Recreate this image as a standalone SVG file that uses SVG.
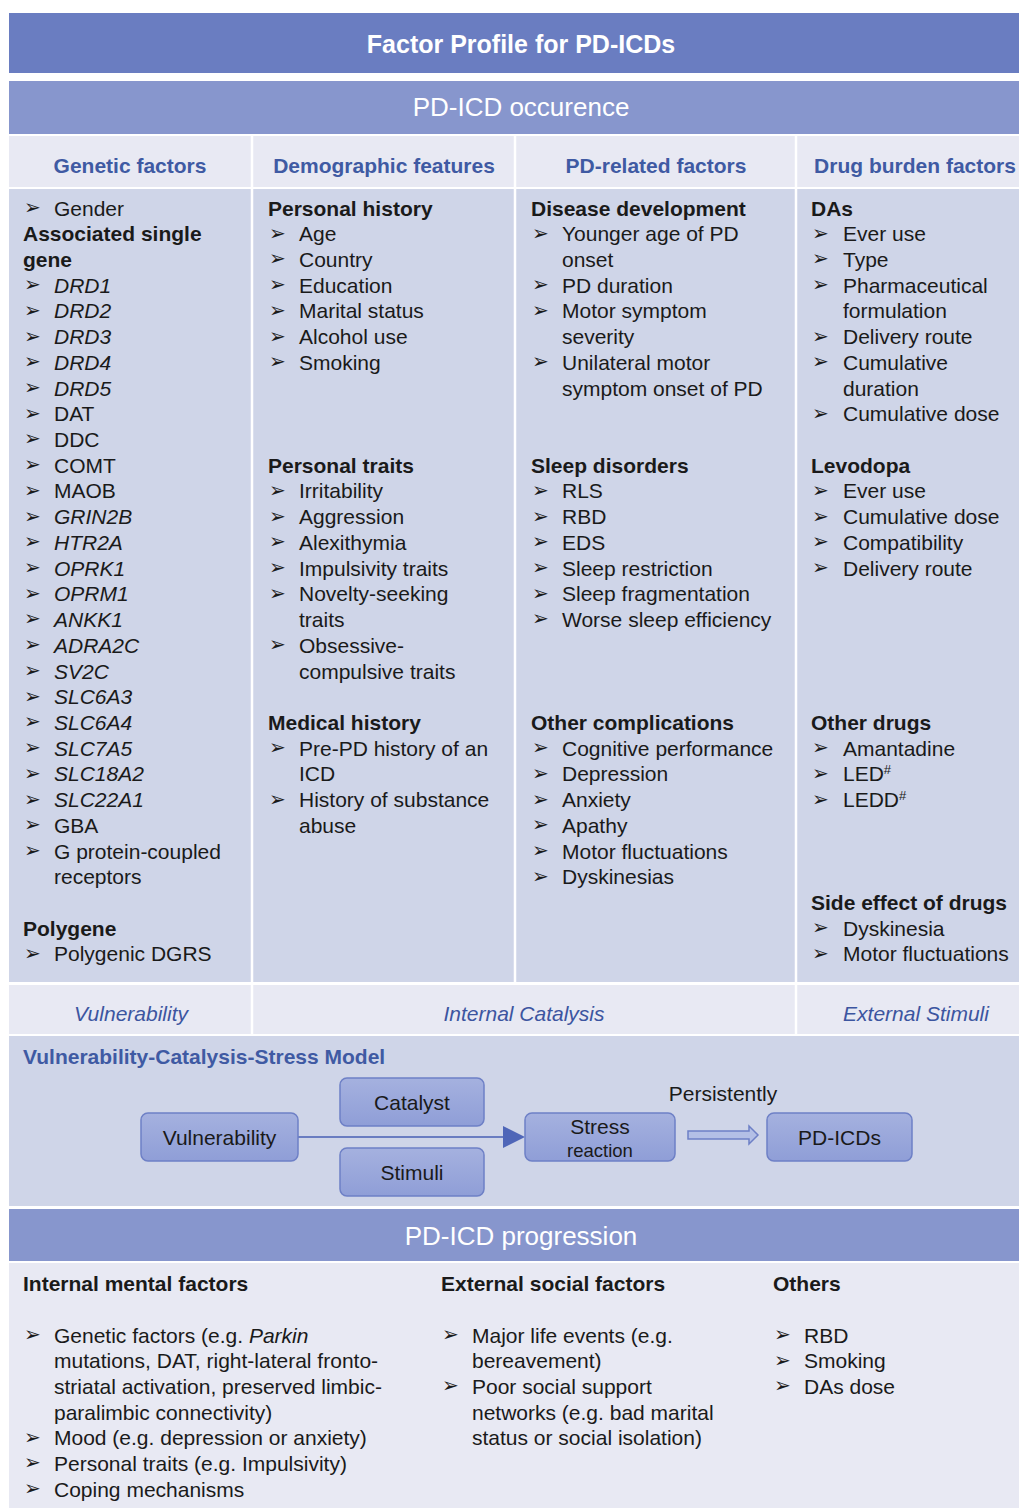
<svg xmlns="http://www.w3.org/2000/svg" width="1019" height="1508" viewBox="0 0 1019 1508">
<defs>
<style>
text{font-family:"Liberation Sans",Arial,sans-serif;}
.t{font-size:21px;fill:#1a1a1a;}
.h{font-size:21px;font-weight:bold;fill:#1a1a1a;}
.i{font-style:italic;}
.b{font-family:"DejaVu Sans",sans-serif;font-size:20px;fill:#1a1a1a;}
.ch{font-size:21px;font-weight:bold;fill:#3f5aa3;text-anchor:middle;}
.lab{font-size:21px;font-style:italic;fill:#3c55a0;text-anchor:middle;}
.bar{font-size:26px;fill:#ffffff;text-anchor:middle;}
.box{fill:url(#bg);stroke:#6e80c6;stroke-width:1.5;}
.bt{font-size:21px;fill:#1a1a1a;text-anchor:middle;}
</style>
<linearGradient id="bg" x1="0" y1="0" x2="0" y2="1">
<stop offset="0" stop-color="#a5b1df"/>
<stop offset="1" stop-color="#8f9ed7"/>
</linearGradient>
</defs>
<rect width="1019" height="1508" fill="#ffffff"/>

<g id="title-bar">
<rect x="9" y="13" width="1010" height="60" fill="#6a7dc1"/>
<text class="bar" x="521" y="53" style="font-weight:bold;font-size:25px">Factor Profile for PD-ICDs</text>
</g>
<g id="occurrence-bar">
<rect x="9" y="81" width="1010" height="53" fill="#8796cd"/>
<text class="bar" x="521" y="116">PD-ICD occurence</text>
</g>

<g id="column-headers">
<rect x="9" y="136" width="1010" height="51" fill="#e8e9f3"/>
<line x1="252" y1="136" x2="252" y2="187" stroke="#ffffff" stroke-width="2.5"/>
<line x1="515" y1="136" x2="515" y2="187" stroke="#ffffff" stroke-width="2.5"/>
<line x1="796" y1="136" x2="796" y2="187" stroke="#ffffff" stroke-width="2.5"/>
<text class="ch" x="130" y="173">Genetic factors</text>
<text class="ch" x="384" y="173">Demographic features</text>
<text class="ch" x="656" y="173">PD-related factors</text>
<text class="ch" x="915" y="173">Drug burden factors</text>
</g>

<rect x="9" y="189" width="1010" height="793" fill="#cfd5e8"/>
<line x1="252" y1="189" x2="252" y2="982" stroke="#ffffff" stroke-width="2.5"/>
<line x1="515" y1="189" x2="515" y2="982" stroke="#ffffff" stroke-width="2.5"/>
<line x1="796" y1="189" x2="796" y2="982" stroke="#ffffff" stroke-width="2.5"/>

<g id="genetic-factors">
<text class="b" x="24" y="214">➢</text><text class="t" x="54" y="215.5">Gender</text>
<text class="h" x="23" y="241.2">Associated single</text>
<text class="h" x="23" y="266.9">gene</text>
<text class="b" x="24" y="291">➢</text><text class="t i" x="54" y="292.7">DRD1</text>
<text class="b" x="24" y="317">➢</text><text class="t i" x="54" y="318.4">DRD2</text>
<text class="b" x="24" y="342.5">➢</text><text class="t i" x="54" y="344.1">DRD3</text>
<text class="b" x="24" y="368.2">➢</text><text class="t i" x="54" y="369.8">DRD4</text>
<text class="b" x="24" y="394">➢</text><text class="t i" x="54" y="395.5">DRD5</text>
<text class="b" x="24" y="419.7">➢</text><text class="t" x="54" y="421.3">DAT</text>
<text class="b" x="24" y="445.4">➢</text><text class="t" x="54" y="447">DDC</text>
<text class="b" x="24" y="471.1">➢</text><text class="t" x="54" y="472.7">COMT</text>
<text class="b" x="24" y="496.8">➢</text><text class="t" x="54" y="498.4">MAOB</text>
<text class="b" x="24" y="522.5">➢</text><text class="t i" x="54" y="524.1">GRIN2B</text>
<text class="b" x="24" y="548.3">➢</text><text class="t i" x="54" y="549.9">HTR2A</text>
<text class="b" x="24" y="574">➢</text><text class="t i" x="54" y="575.6">OPRK1</text>
<text class="b" x="24" y="599.7">➢</text><text class="t i" x="54" y="601.3">OPRM1</text>
<text class="b" x="24" y="625.4">➢</text><text class="t i" x="54" y="627">ANKK1</text>
<text class="b" x="24" y="651.1">➢</text><text class="t i" x="54" y="652.7">ADRA2C</text>
<text class="b" x="24" y="676.9">➢</text><text class="t i" x="54" y="678.5">SV2C</text>
<text class="b" x="24" y="702.6">➢</text><text class="t i" x="54" y="704.2">SLC6A3</text>
<text class="b" x="24" y="728.3">➢</text><text class="t i" x="54" y="729.9">SLC6A4</text>
<text class="b" x="24" y="754">➢</text><text class="t i" x="54" y="755.6">SLC7A5</text>
<text class="b" x="24" y="779.7">➢</text><text class="t i" x="54" y="781.3">SLC18A2</text>
<text class="b" x="24" y="805.5">➢</text><text class="t i" x="54" y="807.1">SLC22A1</text>
<text class="b" x="24" y="831.2">➢</text><text class="t" x="54" y="832.8">GBA</text>
<text class="b" x="24" y="856.9">➢</text><text class="t" x="54" y="858.5">G protein-coupled</text>
<text class="t" x="54" y="884.2">receptors</text>
<text class="h" x="23" y="935.7">Polygene</text>
<text class="b" x="24" y="959.8">➢</text><text class="t" x="54" y="961.4">Polygenic DGRS</text>
</g>

<g id="demographic-features">
<text class="h" x="268" y="215.5">Personal history</text>
<text class="b" x="269" y="239.6">➢</text><text class="t" x="299" y="241.2">Age</text>
<text class="b" x="269" y="265.3">➢</text><text class="t" x="299" y="266.9">Country</text>
<text class="b" x="269" y="291">➢</text><text class="t" x="299" y="292.7">Education</text>
<text class="b" x="269" y="317">➢</text><text class="t" x="299" y="318.4">Marital status</text>
<text class="b" x="269" y="342.5">➢</text><text class="t" x="299" y="344.1">Alcohol use</text>
<text class="b" x="269" y="368.2">➢</text><text class="t" x="299" y="369.8">Smoking</text>
<text class="h" x="268" y="472.7">Personal traits</text>
<text class="b" x="269" y="496.8">➢</text><text class="t" x="299" y="498.4">Irritability</text>
<text class="b" x="269" y="522.5">➢</text><text class="t" x="299" y="524.1">Aggression</text>
<text class="b" x="269" y="548.3">➢</text><text class="t" x="299" y="549.9">Alexithymia</text>
<text class="b" x="269" y="574">➢</text><text class="t" x="299" y="575.6">Impulsivity traits</text>
<text class="b" x="269" y="599.7">➢</text><text class="t" x="299" y="601.3">Novelty-seeking</text>
<text class="t" x="299" y="627">traits</text>
<text class="b" x="269" y="651.1">➢</text><text class="t" x="299" y="652.7">Obsessive-</text>
<text class="t" x="299" y="678.5">compulsive traits</text>
<text class="h" x="268" y="729.9">Medical history</text>
<text class="b" x="269" y="754">➢</text><text class="t" x="299" y="755.6">Pre-PD history of an</text>
<text class="t" x="299" y="781.3">ICD</text>
<text class="b" x="269" y="805.5">➢</text><text class="t" x="299" y="807.1">History of substance</text>
<text class="t" x="299" y="832.8">abuse</text>
</g>

<g id="pd-related-factors">
<text class="h" x="531" y="215.5">Disease development</text>
<text class="b" x="532" y="239.6">➢</text><text class="t" x="562" y="241.2">Younger age of PD</text>
<text class="t" x="562" y="266.9">onset</text>
<text class="b" x="532" y="291">➢</text><text class="t" x="562" y="292.7">PD duration</text>
<text class="b" x="532" y="317">➢</text><text class="t" x="562" y="318.4">Motor symptom</text>
<text class="t" x="562" y="344.1">severity</text>
<text class="b" x="532" y="368.2">➢</text><text class="t" x="562" y="369.8">Unilateral motor</text>
<text class="t" x="562" y="395.5">symptom onset of PD</text>
<text class="h" x="531" y="472.7">Sleep disorders</text>
<text class="b" x="532" y="496.8">➢</text><text class="t" x="562" y="498.4">RLS</text>
<text class="b" x="532" y="522.5">➢</text><text class="t" x="562" y="524.1">RBD</text>
<text class="b" x="532" y="548.3">➢</text><text class="t" x="562" y="549.9">EDS</text>
<text class="b" x="532" y="574">➢</text><text class="t" x="562" y="575.6">Sleep restriction</text>
<text class="b" x="532" y="599.7">➢</text><text class="t" x="562" y="601.3">Sleep fragmentation</text>
<text class="b" x="532" y="625.4">➢</text><text class="t" x="562" y="627">Worse sleep efficiency</text>
<text class="h" x="531" y="729.9">Other complications</text>
<text class="b" x="532" y="754">➢</text><text class="t" x="562" y="755.6">Cognitive performance</text>
<text class="b" x="532" y="779.7">➢</text><text class="t" x="562" y="781.3">Depression</text>
<text class="b" x="532" y="805.5">➢</text><text class="t" x="562" y="807.1">Anxiety</text>
<text class="b" x="532" y="831.2">➢</text><text class="t" x="562" y="832.8">Apathy</text>
<text class="b" x="532" y="856.9">➢</text><text class="t" x="562" y="858.5">Motor fluctuations</text>
<text class="b" x="532" y="882.6">➢</text><text class="t" x="562" y="884.2">Dyskinesias</text>
</g>

<g id="drug-burden-factors">
<text class="h" x="811" y="215.5">DAs</text>
<text class="b" x="812" y="239.6">➢</text><text class="t" x="843" y="241.2">Ever use</text>
<text class="b" x="812" y="265.3">➢</text><text class="t" x="843" y="266.9">Type</text>
<text class="b" x="812" y="291">➢</text><text class="t" x="843" y="292.7">Pharmaceutical</text>
<text class="t" x="843" y="318.4">formulation</text>
<text class="b" x="812" y="342.5">➢</text><text class="t" x="843" y="344.1">Delivery route</text>
<text class="b" x="812" y="368.2">➢</text><text class="t" x="843" y="369.8">Cumulative</text>
<text class="t" x="843" y="395.5">duration</text>
<text class="b" x="812" y="419.7">➢</text><text class="t" x="843" y="421.3">Cumulative dose</text>
<text class="h" x="811" y="472.7">Levodopa</text>
<text class="b" x="812" y="496.8">➢</text><text class="t" x="843" y="498.4">Ever use</text>
<text class="b" x="812" y="522.5">➢</text><text class="t" x="843" y="524.1">Cumulative dose</text>
<text class="b" x="812" y="548.3">➢</text><text class="t" x="843" y="549.9">Compatibility</text>
<text class="b" x="812" y="574">➢</text><text class="t" x="843" y="575.6">Delivery route</text>
<text class="h" x="811" y="729.9">Other drugs</text>
<text class="b" x="812" y="754">➢</text><text class="t" x="843" y="755.6">Amantadine</text>
<text class="b" x="812" y="779.7">➢</text><text class="t" x="843" y="781.3">LED<tspan font-size="13" dy="-7">#</tspan></text>
<text class="b" x="812" y="805.5">➢</text><text class="t" x="843" y="807.1">LEDD<tspan font-size="13" dy="-7">#</tspan></text>
<text class="h" x="811" y="909.9">Side effect of drugs</text>
<text class="b" x="812" y="934.1">➢</text><text class="t" x="843" y="935.7">Dyskinesia</text>
<text class="b" x="812" y="959.8">➢</text><text class="t" x="843" y="961.4">Motor fluctuations</text>
</g>

<g id="model-labels">
<rect x="9" y="985" width="1010" height="49" fill="#e8e9f3"/>
<line x1="252" y1="985" x2="252" y2="1034" stroke="#ffffff" stroke-width="2.5"/>
<line x1="796" y1="985" x2="796" y2="1034" stroke="#ffffff" stroke-width="2.5"/>
<text class="lab" x="131" y="1020.5">Vulnerability</text>
<text class="lab" x="524" y="1020.5">Internal Catalysis</text>
<text class="lab" x="916" y="1020.5">External Stimuli</text>
</g>

<rect x="9" y="1036" width="1010" height="170" fill="#cfd5e8"/>
<text x="23" y="1063.5" style="font-size:21px;font-weight:bold;fill:#3f5aa3">Vulnerability-Catalysis-Stress Model</text>

<g id="connectors">
<line x1="298" y1="1137" x2="505" y2="1137" stroke="#6a7dc1" stroke-width="2"/>
<path d="M503,1126 L525,1137 L503,1148 Z" fill="#4f66b8"/>
<text x="723" y="1100.5" style="font-size:21px;fill:#1a1a1a;text-anchor:middle">Persistently</text>
<path d="M688,1131 L749,1131 L749,1126 L758,1135 L749,1144 L749,1139 L688,1139 Z" fill="#b3bfe6" stroke="#6e80c6" stroke-width="1.5"/>
</g>

<g id="node-vulnerability">
<rect class="box" x="141" y="1113" width="157" height="48" rx="7"/>
<text class="bt" x="219.5" y="1144.5">Vulnerability</text>
</g>
<g id="node-catalyst">
<rect class="box" x="340" y="1078" width="144" height="48" rx="7"/>
<text class="bt" x="412" y="1109.5">Catalyst</text>
</g>
<g id="node-stimuli">
<rect class="box" x="340" y="1148" width="144" height="48" rx="7"/>
<text class="bt" x="412" y="1179.5">Stimuli</text>
</g>
<g id="node-stress">
<rect class="box" x="525" y="1113" width="150" height="48" rx="7"/>
<text class="bt" x="600" y="1133.5">Stress</text>
<text class="bt" x="600" y="1156.5" style="font-size:18.5px">reaction</text>
</g>
<g id="node-pdicds">
<rect class="box" x="767" y="1113" width="145" height="48" rx="7"/>
<text class="bt" x="839.5" y="1144.5">PD-ICDs</text>
</g>

<g id="progression-bar">
<rect x="9" y="1209" width="1010" height="52" fill="#8796cd"/>
<text class="bar" x="521" y="1245">PD-ICD progression</text>
</g>

<rect x="9" y="1263" width="1010" height="245" fill="#e8e9f3"/>
<g id="internal-mental-factors">
<text class="h" x="23" y="1290.5">Internal mental factors</text>
<text class="b" x="24" y="1340.9">➢</text><text class="t" x="54" y="1342.5">Genetic factors (e.g. <tspan class="i">Parkin</tspan></text>
<text class="t" x="54" y="1368.2">mutations, DAT, right-lateral fronto-</text>
<text class="t" x="54" y="1393.9">striatal activation, preserved limbic-</text>
<text class="t" x="54" y="1419.6">paralimbic connectivity)</text>
<text class="b" x="24" y="1443.7">➢</text><text class="t" x="54" y="1445.3">Mood (e.g. depression or anxiety)</text>
<text class="b" x="24" y="1469.4">➢</text><text class="t" x="54" y="1471">Personal traits (e.g. Impulsivity)</text>
<text class="b" x="24" y="1495.1">➢</text><text class="t" x="54" y="1496.7">Coping mechanisms</text>
</g>
<g id="external-social-factors">
<text class="h" x="441" y="1290.5">External social factors</text>
<text class="b" x="442" y="1340.9">➢</text><text class="t" x="472" y="1342.5">Major life events (e.g.</text>
<text class="t" x="472" y="1368.2">bereavement)</text>
<text class="b" x="442" y="1392.3">➢</text><text class="t" x="472" y="1393.9">Poor social support</text>
<text class="t" x="472" y="1419.6">networks (e.g. bad marital</text>
<text class="t" x="472" y="1445.3">status or social isolation)</text>
</g>
<g id="others">
<text class="h" x="773" y="1290.5">Others</text>
<text class="b" x="774" y="1340.9">➢</text><text class="t" x="804" y="1342.5">RBD</text>
<text class="b" x="774" y="1366.6">➢</text><text class="t" x="804" y="1368.2">Smoking</text>
<text class="b" x="774" y="1392.3">➢</text><text class="t" x="804" y="1393.9">DAs dose</text>
</g>
</svg>
